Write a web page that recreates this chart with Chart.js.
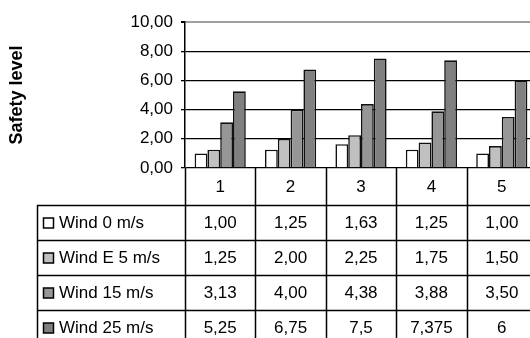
<!DOCTYPE html>
<html lang="en">
<head>
<meta charset="UTF-8">
<title>Safety level</title>
<script src="https://cdn.jsdelivr.net/npm/chart.js"></script>
<style>
  html, body { margin: 0; padding: 0; background: #fff; overflow: hidden; }
  .chart-box { position: relative; width: 537px; height: 338px; }
</style>
</head>
<body>
<div class="chart-box"><canvas id="safetyChart"></canvas></div>
<script>
// data
const categories = ['1', '2', '3', '4', '5'];
const seriesNames = ['Wind 0 m/s', 'Wind E 5 m/s', 'Wind 15 m/s', 'Wind 25 m/s'];
const wind0 = [1.00, 1.25, 1.63, 1.25, 1.00];
const windE5 = [1.25, 2.00, 2.25, 1.75, 1.50];
const wind15 = [3.13, 4.00, 4.38, 3.88, 3.50];
const wind25 = [5.25, 6.75, 7.5, 7.375, 6];
const yTicks = [0, 2, 4, 6, 8, 10];
const barColors = ['#ffffff', '#c0c0c0', '#969696', '#808080'];
// cells written in general number format instead of 0,00
const plainCells = [[], [], [], [2, 3, 4]];

const FONT = "'Liberation Sans', Arial, sans-serif";
Chart.defaults.font.family = FONT;
Chart.defaults.color = '#000';

function fmt(v, plain) {
    return (plain ? String(v) : v.toFixed(2)).replace('.', ',');
}

// data table under the plot: category row + one row per series
const dataTable = {
    id: 'dataTable',
    afterDraw(chart) {
        const ctx = chart.ctx;
        const area = chart.chartArea;
        const sets = chart.data.datasets;
        const colW = (area.right - area.left) / categories.length;
        const headBottom = area.bottom + 37;
        const rowH = 35;
        const tableLeft = 37;
        const bottom = chart.height;

        ctx.save();
        ctx.strokeStyle = '#000';
        ctx.lineWidth = 1.5;
        ctx.beginPath();
        for (let i = 0; i <= categories.length; i++) {
            const cx = Math.round(area.left + i * colW) + 0.5;
            ctx.moveTo(cx, area.bottom);
            ctx.lineTo(cx, bottom);
        }
        ctx.moveTo(tableLeft + 0.5, headBottom);
        ctx.lineTo(tableLeft + 0.5, bottom);
        for (let r = 0; r <= sets.length; r++) {
            const ry = Math.round(headBottom + r * rowH) + 0.5;
            ctx.moveTo(tableLeft, ry);
            ctx.lineTo(area.right, ry);
        }
        ctx.stroke();

        ctx.fillStyle = '#000';
        ctx.textBaseline = 'middle';
        ctx.textAlign = 'center';
        ctx.font = '17px ' + FONT;
        categories.forEach((c, i) => {
            ctx.fillText(c, area.left + (i + 0.5) * colW, (area.bottom + headBottom) / 2 + 1);
        });

        sets.forEach((ds, r) => {
            const cy = headBottom + (r + 0.5) * rowH + 1;
            // legend key
            ctx.fillStyle = ds.backgroundColor;
            ctx.fillRect(43.5, cy - 5.5, 10, 10);
            ctx.lineWidth = 1.5;
            ctx.strokeRect(43.5, cy - 5.5, 10, 10);
            ctx.fillStyle = '#000';
            ctx.textAlign = 'left';
            ctx.fillText(ds.label, 59, cy);
            ctx.textAlign = 'center';
            ds.data.forEach((v, i) => {
                ctx.fillText(fmt(v, plainCells[r].includes(i)), area.left + (i + 0.5) * colW, cy);
            });
        });
        ctx.restore();
    }
};

const values = [wind0, windE5, wind15, wind25];

new Chart(document.getElementById('safetyChart'), {
    type: 'bar',
    data: {
        labels: categories,
        datasets: seriesNames.map((name, i) => ({
            label: name,
            data: values[i],
            backgroundColor: barColors[i],
            borderColor: '#111',
            borderWidth: 1.6,
            borderSkipped: 'bottom',
            categoryPercentage: 0.727,
            barPercentage: 1
        }))
    },
    options: {
        responsive: true,
        maintainAspectRatio: false,
        animation: false,
        layout: { padding: { top: 22, right: 0, bottom: 170, left: 0 } },
        plugins: {
            legend: { display: false },
            tooltip: { enabled: false }
        },
        scales: {
            x: { display: false },
            y: {
                min: 0,
                max: 10,
                afterBuildTicks: s => { s.ticks = yTicks.map(v => ({ value: v })); },
                afterFit: s => { s.width = 185; },
                ticks: {
                    padding: 8,
                    color: '#000',
                    font: { size: 17 },
                    callback: v => fmt(v, false)
                },
                grid: {
                    color: c => c.tick && c.tick.value === 10 ? '#a0a0a0' : '#000',
                    lineWidth: c => c.tick && c.tick.value === 10 ? 2 : 1.3,
                    tickColor: '#000',
                    tickLength: 4
                },
                border: { display: true, color: '#000', width: 1.5 },
                title: {
                    display: true,
                    text: 'Safety level',
                    color: '#000',
                    font: { size: 18, weight: 'bold' },
                    padding: { top: 6, bottom: 0 }
                }
            }
        }
    },
    plugins: [dataTable]
});
</script>
</body>
</html>
